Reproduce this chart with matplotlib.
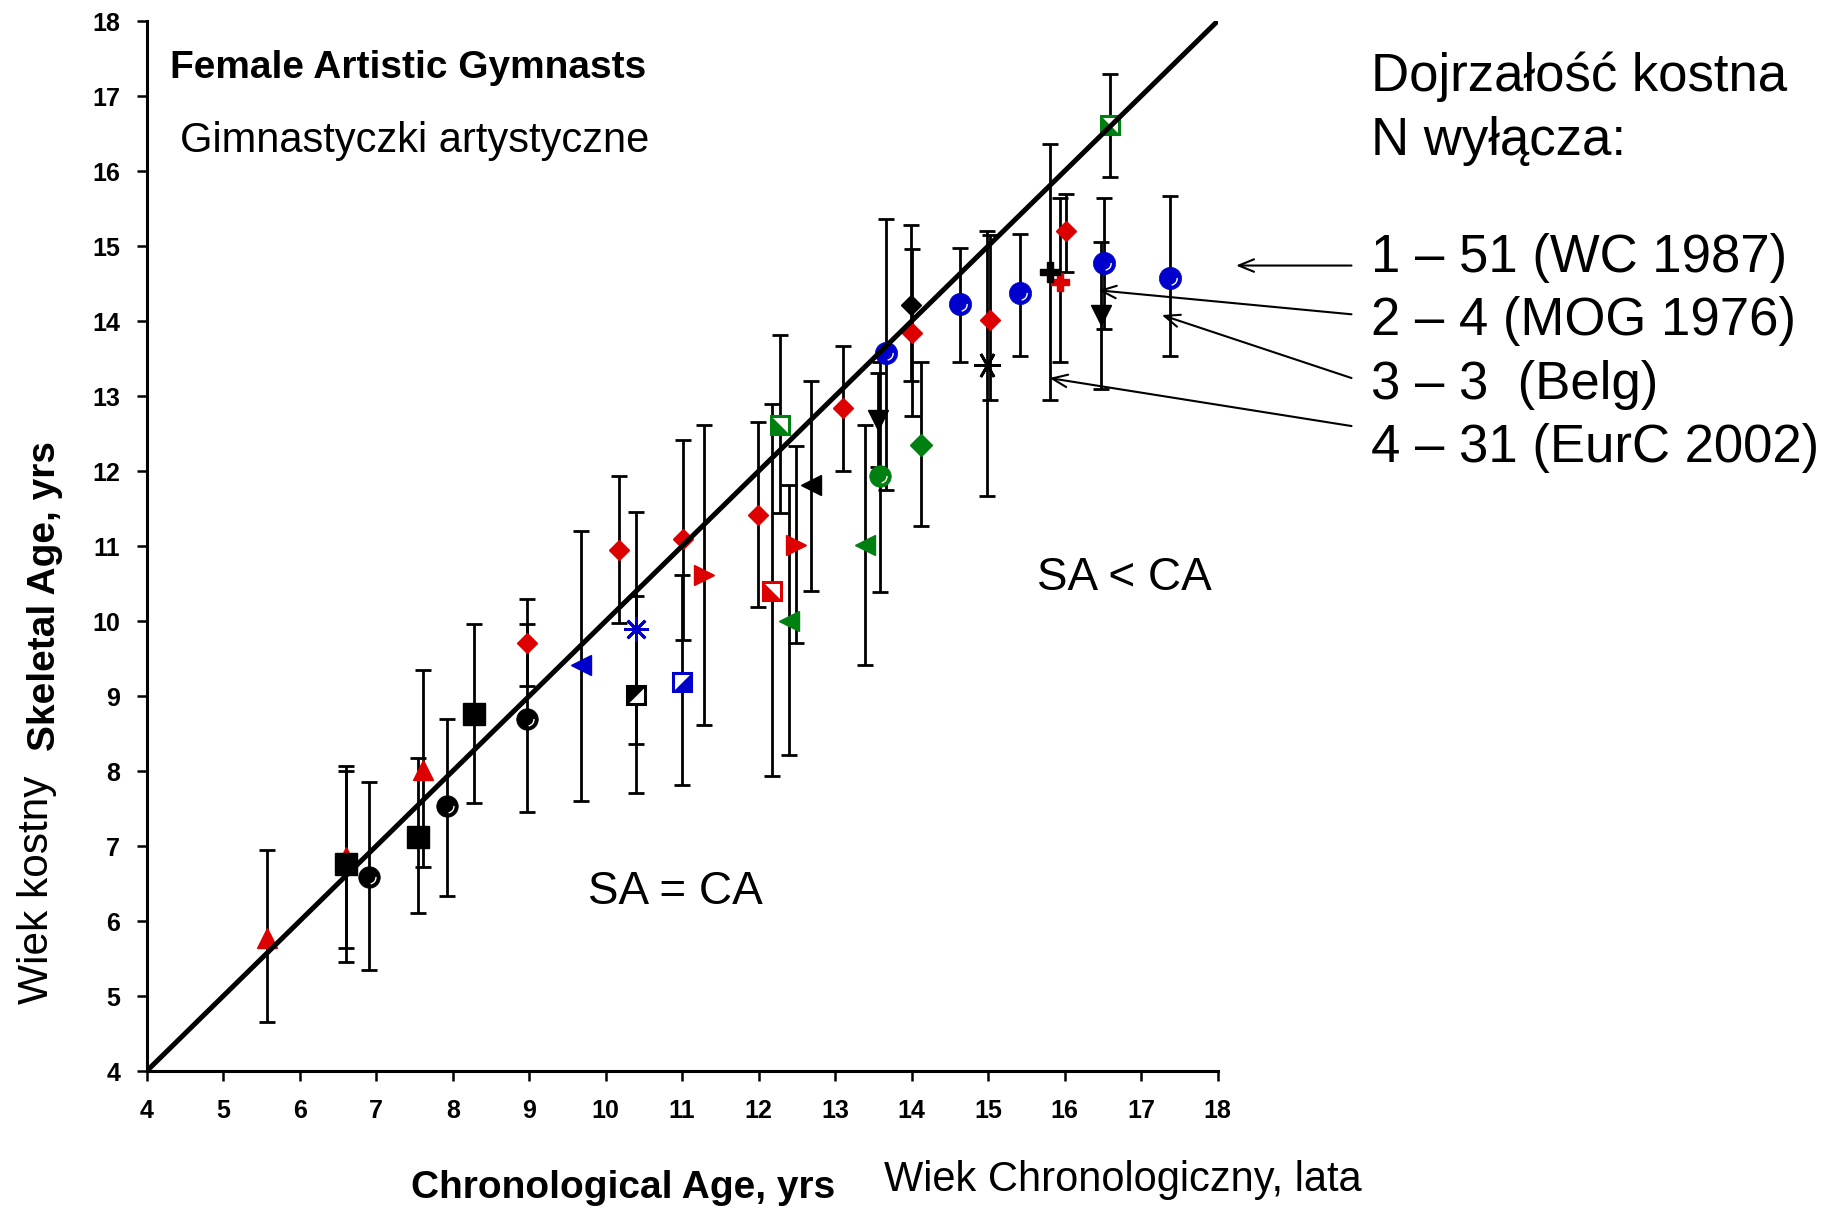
import numpy as np
import matplotlib
matplotlib.use("Agg")
import matplotlib.pyplot as plt
from matplotlib.path import Path

plt.rcParams['font.family'] = ['Liberation Sans', 'DejaVu Sans']

RED = '#dd0000'
BLUE = '#0000cc'
GREEN = '#008010'

# chronological age (x), skeletal age (y), error bar low / high, one block per symbol
red_up_ca = [5.57, 6.61, 7.61]
red_up_sa = [5.77, 6.85, 8.01]
red_up_lo = [4.66, 5.64, 6.72]
red_up_hi = [6.95, 8.00, 9.35]

black_sq_ca = [6.61, 7.54, 8.28]
black_sq_sa = [6.76, 7.12, 8.76]
black_sq_lo = [5.46, 6.11, 7.57]
black_sq_hi = [8.07, 8.18, 9.96]

black_ci_ca = [6.90, 7.93, 8.97]
black_ci_sa = [6.59, 7.54, 8.70]
black_ci_lo = [5.35, 6.33, 7.46]
black_ci_hi = [7.85, 8.69, 9.96]

red_di_ca = [8.97, 10.17, 11.01, 11.99, 13.10, 14.00, 15.02, 16.02]
red_di_sa = [9.71, 10.95, 11.10, 11.42, 12.84, 13.84, 14.02, 15.20]
red_di_lo = [9.13, 9.97, 9.75, 10.19, 12.00, 12.73, 12.95, 14.66]
red_di_hi = [10.29, 11.93, 12.41, 12.66, 13.67, 14.96, 15.15, 15.70]

red_rt_ca = [11.28, 12.49]
red_rt_sa = [10.61, 11.01]
red_rt_lo = [8.61, 9.71]
red_rt_hi = [12.61, 12.34]

red_hs_ca = [12.17]
red_hs_sa = [10.40]
red_hs_lo = [7.93]
red_hs_hi = [12.90]

red_pl_ca = [15.94]
red_pl_sa = [14.52]
red_pl_lo = [13.46]
red_pl_hi = [15.64]

blue_lt_ca = [9.68]
blue_lt_sa = [9.41]
blue_lt_lo = [7.60]
blue_lt_hi = [11.20]

blue_as_ca = [10.39]
blue_as_sa = [9.89]
blue_as_lo = [8.36]
blue_as_hi = [11.46]

black_hs_ca = [10.39]
black_hs_sa = [9.02]
black_hs_lo = [7.71]
black_hs_hi = [10.33]

blue_hs_ca = [11.00]
blue_hs_sa = [9.19]
blue_hs_lo = [7.82]
blue_hs_hi = [10.61]

green_hs_ca = [12.28, 16.59]
green_hs_sa = [12.61, 16.61]
green_hs_lo = [11.44, 15.92]
green_hs_hi = [13.82, 17.30]

green_lt_ca = [12.40, 13.39]
green_lt_sa = [10.00, 11.02]
green_lt_lo = [8.21, 9.42]
green_lt_hi = [11.81, 12.62]

black_lt_ca = [12.68]
black_lt_sa = [11.81]
black_lt_lo = [10.40]
black_lt_hi = [13.20]

black_dn_ca = [13.56, 16.48]
black_dn_sa = [12.68, 14.08]
black_dn_lo = [12.05, 13.10]
black_dn_hi = [13.31, 15.05]

green_ci_ca = [13.59]
green_ci_sa = [11.93]
green_ci_lo = [10.39]
green_ci_hi = [13.45]

blue_ci_ca = [13.66, 14.63, 15.42, 16.51, 17.38]
blue_ci_sa = [13.58, 14.23, 14.37, 14.77, 14.58]
blue_ci_lo = [11.75, 13.45, 13.53, 13.89, 13.53]
blue_ci_hi = [15.36, 14.98, 15.16, 15.64, 15.67]

black_di_ca = [13.99]
black_di_sa = [14.22]
black_di_lo = [13.20]
black_di_hi = [15.28]

green_di_ca = [14.12]
green_di_sa = [12.35]
green_di_lo = [11.27]
green_di_hi = [13.45]

black_as_ca = [14.99]
black_as_sa = [13.42]
black_as_lo = [11.67]
black_as_hi = [15.20]

black_pl_ca = [15.81]
black_pl_sa = [14.65]
black_pl_lo = [12.95]
black_pl_hi = [16.36]

identity = [4, 18]

# labels on the right and where their arrows point
study_labels = ['1 \u2013 51 (WC 1987)', '2 \u2013 4 (MOG 1976)',
                '3 \u2013 3  (Belg)', '4 \u2013 31 (EurC 2002)']
arrow_from_y = [14.74, 14.09, 13.24, 12.60]
arrow_to_x = [18.24, 16.44, 17.27, 15.80]
arrow_to_y = [14.74, 14.41, 14.08, 13.24]

# half-filled square pieces and the white shine on the balls
tri_ll = [(-1, 1), (-1, -1), (1, -1)]
tri_ul = [(-1, 1), (1, 1), (-1, -1)]
tri_lr = [(1, 1), (1, -1), (-1, -1)]
arc = Path.arc(-80, 5)
shine = Path(np.vstack([arc.vertices * 0.6, [[1, 1], [-1, -1]]]),
             list(arc.codes) + [Path.MOVETO, Path.MOVETO])

fig = plt.figure(figsize=(18.25, 12.09), dpi=100)
ax = fig.add_axes([0.0804, 0.1141, 0.5868, 0.8685])


def draw(ca, sa, lo, hi, **style):
    ca = np.array(ca); sa = np.array(sa)
    yerr = [sa - np.array(lo), np.array(hi) - sa]
    ax.errorbar(ca, sa, yerr=yerr, fmt='none', ecolor='black', elinewidth=2,
                capsize=6, capthick=2, zorder=2)
    ax.plot(ca, sa, linestyle='none', zorder=3, **style)


def half_square(ca, sa, lo, hi, color, piece):
    draw(ca, sa, lo, hi, marker='s', ms=13.5, mfc='white', mec=color, mew=2.2)
    ax.plot(ca, sa, linestyle='none', marker=piece, ms=13.5, mfc=color,
            mec=color, mew=0.5, zorder=3)


def ball(ca, sa, lo, hi, color, size):
    draw(ca, sa, lo, hi, marker='o', ms=size, mfc=color, mec=color, mew=0.5)
    ax.plot(ca, sa, linestyle='none', marker=shine, ms=size, mfc='none',
            mec='white', mew=1.0, zorder=3)


draw(red_up_ca, red_up_sa, red_up_lo, red_up_hi, marker='^', ms=15, color=RED, mec=RED)
draw(black_sq_ca, black_sq_sa, black_sq_lo, black_sq_hi, marker='s', ms=15.5, color='black')
ball(black_ci_ca, black_ci_sa, black_ci_lo, black_ci_hi, 'black', 15.5)
draw(red_di_ca, red_di_sa, red_di_lo, red_di_hi, marker='D', ms=10.5, color=RED, mec=RED)
draw(red_rt_ca, red_rt_sa, red_rt_lo, red_rt_hi, marker='>', ms=15, color=RED, mec=RED)
half_square(red_hs_ca, red_hs_sa, red_hs_lo, red_hs_hi, RED, tri_ll)
draw(red_pl_ca, red_pl_sa, red_pl_lo, red_pl_hi, marker='P', ms=12.5, color=RED, mec=RED)
draw(blue_lt_ca, blue_lt_sa, blue_lt_lo, blue_lt_hi, marker='<', ms=15, color=BLUE, mec=BLUE)
draw(blue_as_ca, blue_as_sa, blue_as_lo, blue_as_hi, marker=(8, 2, 0), ms=18,
     color=BLUE, mec=BLUE, mew=2)
half_square(black_hs_ca, black_hs_sa, black_hs_lo, black_hs_hi, 'black', tri_ul)
half_square(blue_hs_ca, blue_hs_sa, blue_hs_lo, blue_hs_hi, BLUE, tri_lr)
half_square(green_hs_ca, green_hs_sa, green_hs_lo, green_hs_hi, GREEN, tri_ll)
draw(green_lt_ca, green_lt_sa, green_lt_lo, green_lt_hi, marker='<', ms=15, color=GREEN, mec=GREEN)
draw(black_lt_ca, black_lt_sa, black_lt_lo, black_lt_hi, marker='<', ms=15, color='black')
draw(black_dn_ca, black_dn_sa, black_dn_lo, black_dn_hi, marker='v', ms=15, color='black')
ball(green_ci_ca, green_ci_sa, green_ci_lo, green_ci_hi, GREEN, 15.5)
ball(blue_ci_ca, blue_ci_sa, blue_ci_lo, blue_ci_hi, BLUE, 16)
draw(black_di_ca, black_di_sa, black_di_lo, black_di_hi, marker='D', ms=10.5, color='black')
draw(green_di_ca, green_di_sa, green_di_lo, green_di_hi, marker='D', ms=11, color=GREEN, mec=GREEN)
draw(black_as_ca, black_as_sa, black_as_lo, black_as_hi, marker=(6, 2, 90), ms=19,
     color='black', mew=2)
draw(black_pl_ca, black_pl_sa, black_pl_lo, black_pl_hi, marker='P', ms=15, color='black')

# SA = CA line
ax.plot(identity, identity, color='black', lw=3.6, zorder=4, solid_capstyle='butt')

ax.set_xlim(4, 18)
ax.set_ylim(4, 18)
ax.set_xticks(range(4, 19))
ax.set_yticks(range(4, 19))
ax.spines['top'].set_visible(False)
ax.spines['right'].set_visible(False)
for s in ['left', 'bottom']:
    ax.spines[s].set_linewidth(2.2)
ax.tick_params(axis='both', direction='out', length=7, width=1.8, labelsize=18)
ax.tick_params(axis='x', pad=13)
ax.tick_params(axis='y', pad=12)
for lab in ax.get_xticklabels() + ax.get_yticklabels():
    lab.set_fontweight('bold')

W, H = 1825.0, 1209.0


def px(x, y):
    return x / W, 1 - y / H


fig.text(*px(170, 78), 'Female Artistic Gymnasts', fontsize=28, fontweight='bold',
         ha='left', va='baseline')
fig.text(*px(180, 152), 'Gimnastyczki artystyczne', fontsize=30, ha='left', va='baseline')
fig.text(*px(1124, 578), 'SA < CA', fontsize=33, ha='center', va='center')
fig.text(*px(675, 892), 'SA = CA', fontsize=33, ha='center', va='center')
fig.text(*px(623, 1188), 'Chronological Age, yrs', fontsize=28, fontweight='bold',
         ha='center', va='center')
fig.text(*px(1123, 1180), 'Wiek Chronologiczny, lata', fontsize=30, ha='center', va='center')
fig.text(*px(45, 596), 'Skeletal Age, yrs', fontsize=28, fontweight='bold',
         rotation=90, ha='center', va='center')
fig.text(*px(37, 890), 'Wiek kostny', fontsize=30.5, rotation=90, ha='center', va='center')
fig.text(*px(1371, 91), 'Dojrza\u0142o\u015b\u0107 kostna', fontsize=38, ha='left', va='baseline')
fig.text(*px(1371, 155), 'N wy\u0142\u0105cza:', fontsize=38, ha='left', va='baseline')

for i, lab in enumerate(study_labels):
    fig.text(*px(1371, 272 + 63.3 * i), lab, fontsize=38, ha='left', va='baseline')
    ax.annotate('', xy=(arrow_to_x[i], arrow_to_y[i]), xytext=(19.75, arrow_from_y[i]),
                xycoords='data', textcoords='data', annotation_clip=False,
                arrowprops=dict(arrowstyle='->,head_length=1.1,head_width=0.45',
                                color='black', lw=1.5, shrinkA=0, shrinkB=0))

fig.savefig('out.png', dpi=100)
